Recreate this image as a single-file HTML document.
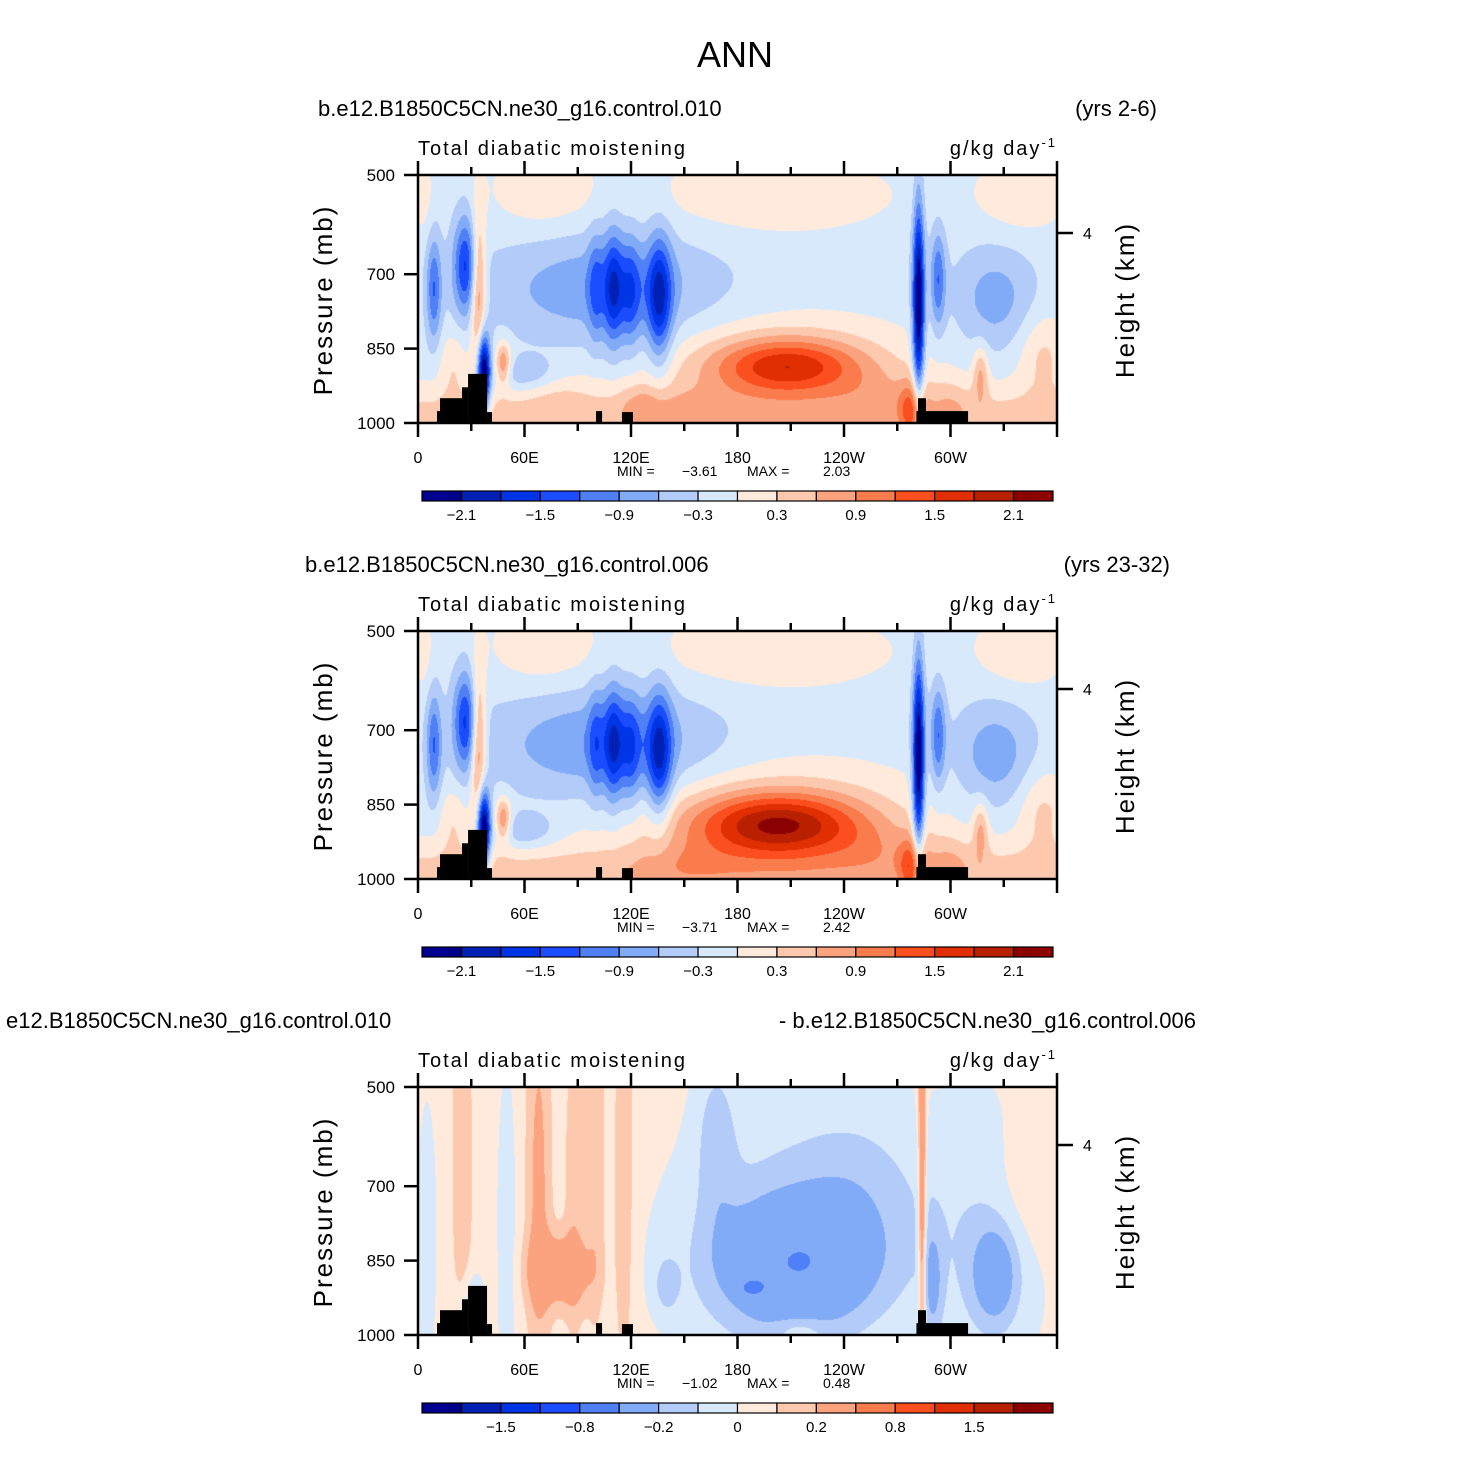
<!DOCTYPE html>
<html><head><meta charset="utf-8">
<style>
html,body{margin:0;padding:0;background:#fff;}
#wrap{position:relative;width:1467px;height:1463px;overflow:hidden;}
canvas{position:absolute;}
svg{position:absolute;left:0;top:0;}
text{font-family:"Liberation Sans",sans-serif;fill:#000;}
</style></head>
<body>
<div id="wrap">
<canvas id="c0" width="639" height="248" style="left:418px;top:175px"></canvas>
<canvas id="c1" width="639" height="248" style="left:418px;top:631px"></canvas>
<canvas id="c2" width="639" height="248" style="left:418px;top:1087px"></canvas>
<svg id="ov" width="1467" height="1463">
<text x="735" y="67" font-size="36" text-anchor="middle" style="font-weight:300">ANN</text>
</svg>
</div>
<script>
// ---- data ----
const colors=["#00008f","#0021b3","#0035e6","#1a4dff","#4f80f7","#82abf7","#b3cbf8","#d8e9fc","#ffeadb","#fcc8ae","#fba37f","#fa7c4c","#fb4f1f","#e02f00","#b82000","#8b0000"];
const levelsAbs=[-2.1,-1.8,-1.5,-1.2,-0.9,-0.6,-0.3,0,0.3,0.6,0.9,1.2,1.5,1.8,2.1];
const levelsDiff=[-2,-1.5,-1.2,-0.8,-0.5,-0.2,-0.1,0,0.1,0.2,0.5,0.8,1.2,1.5,2];
const labelsAbs=["-2.1","","-1.5","","-0.9","","-0.3","","0.3","","0.9","","1.5","","2.1"];
const labelsDiff=["","-1.5","","-0.8","","-0.2","","0","","0.2","","0.8","","1.5",""];
const lonTicks=[0,60,120,180,240,300];
const lonLabels=["0","60E","120E","180","120W","60W"];
const pTicks=[500,700,850,1000];
const titlesL=["b.e12.B1850C5CN.ne30_g16.control.010","b.e12.B1850C5CN.ne30_g16.control.006","e12.B1850C5CN.ne30_g16.control.010"];
const titlesR=["(yrs 2-6)","(yrs 23-32)","- b.e12.B1850C5CN.ne30_g16.control.006"];
const mins=["\u22123.61","\u22123.71","\u22121.02"];
const maxs=["2.03","2.42","0.48"];
// topography blocks: lon0, lon1, top pressure
const topoLon0=[10.7,12.4,24.8,28.2,38.9,100.3,114.9,281.7,280.8];
const topoLon1=[12.4,24.8,28.2,38.9,41.7,103.7,121.1,286.2,309.9];
const topoP=[976,950,928,901,978,976,978,950,976];
// field features per panel: lon, p, sigmaLon, sigmaP, amplitude
const base=[-0.15,-0.15,0.04];
const f1Lon=[70,200,340,3,105,100,110,120,136,9,27,34,37,180,208,205,282,293,325,278,317,352,48,150,60,260,300,20,75,126];
const f1P  =[530,540,540,540,730,730,730,740,750,730,680,730,900,995,885,880,760,710,750,975,900,860,880,975,905,940,960,880,935,960];
const f1SL =[20,48,18,4,45,3,4,4,5,3,5,3,2.5,900,30,55,2.3,3,16,5,3,10,3,20,12,20,8,6,15,8];
const f1SP =[55,55,55,60,75,80,85,80,90,75,70,110,55,50,40,75,140,70,75,40,40,60,30,35,25,40,35,50,25,30];
const f1A  =[0.4,0.4,0.4,0.3,-0.7,-0.6,-1.1,-0.8,-1.4,-1.0,-1.3,1.3,-2.6,0.6,1.45,0.45,-2.4,-1.0,-0.6,0.9,0.7,0.5,1.1,0.25,-0.5,0.25,0.25,0.4,0.2,0.3];
const f2Lon=[70,200,340,3,105,100,110,120,136,9,27,34,37,180,203,200,282,293,325,278,317,352,48,150,60,260,300,20];
const f2P  =[530,540,540,540,730,730,730,740,750,730,680,730,900,995,890,880,760,710,750,975,900,860,880,975,905,940,960,880];
const f2SL =[20,48,18,4,45,3,4,4,5,3,5,3,2.5,900,34,60,2.3,3,16,5,3,10,3,20,12,20,8,6];
const f2SP =[55,55,55,60,75,80,85,80,90,75,70,110,55,50,45,85,140,70,75,40,40,60,30,35,25,40,35,50];
const f2A  =[0.4,0.4,0.4,0.3,-0.75,-0.6,-1.1,-0.8,-1.4,-1.0,-1.3,1.3,-2.6,0.6,1.75,0.55,-2.4,-1.0,-0.65,0.9,0.7,0.5,1.1,0.25,-0.5,0.25,0.25,0.4];
const f3Lon=[213,210,188,168,250,80,25,68,88,100,116,5,50,284,325,320,345,215,140,30,290];
const f3P  =[860,800,905,600,700,870,650,700,700,650,700,800,800,700,880,800,700,990,900,940,900];
const f3SL =[32,45,5,8,25,12,4,5,4,4,4,4,4,1.5,9,25,15,10,5,5,4];
const f3SP =[90,200,12,120,120,50,300,300,250,250,300,200,250,300,70,200,100,20,40,50,80];
const f3A  =[-0.38,-0.16,-0.3,-0.15,-0.1,0.3,0.15,0.2,0.12,0.14,0.15,-0.1,-0.1,0.4,-0.28,-0.13,0.1,0.12,-0.15,-0.15,-0.2];
const panels=[
 {lon:f1Lon,p:f1P,sl:f1SL,sp:f1SP,a:f1A,b:base[0],lev:levelsAbs},
 {lon:f2Lon,p:f2P,sl:f2SL,sp:f2SP,a:f2A,b:base[1],lev:levelsAbs},
 {lon:f3Lon,p:f3P,sl:f3SL,sp:f3SP,a:f3A,b:base[2],lev:levelsDiff}
];
// ---- scales ----
const X0=418,W=639,H=248;
const xOf=lon=>X0+lon/360*W;
const yOf=(p,top)=>top+(p-500)/500*H;
function hex(c){return [parseInt(c.substr(1,2),16),parseInt(c.substr(3,2),16),parseInt(c.substr(5,2),16)];}
const rgb=colors.map(hex);
panels.forEach((pn,k)=>{
 const cv=document.getElementById('c'+k),ctx=cv.getContext('2d');
 const img=ctx.createImageData(W,H);
 for(let y=0;y<H;y++){const p=500+(y+0.5)/H*500;
  for(let x=0;x<W;x++){const lon=(x+0.5)/W*360;let v=pn.b;
   for(let i=0;i<pn.a.length;i++){const dl=(lon-pn.lon[i])/pn.sl[i],dp=(p-pn.p[i])/pn.sp[i];const e=dl*dl+dp*dp;if(e<30)v+=pn.a[i]*Math.exp(-0.5*e);}
   let ci=0;while(ci<pn.lev.length&&v>=pn.lev[ci])ci++;
   const c=rgb[ci],o=(y*W+x)*4;img.data[o]=c[0];img.data[o+1]=c[1];img.data[o+2]=c[2];img.data[o+3]=255;}}
 ctx.putImageData(img,0,0);
});
// ---- overlay ----
const NS="http://www.w3.org/2000/svg",ov=document.getElementById('ov');
function mk(tag,at,parent,txt){const e=document.createElementNS(NS,tag);for(const k in at)e.setAttribute(k,at[k]);if(txt!==undefined)e.textContent=txt;(parent||ov).appendChild(e);return e;}
const tops=[175,631,1087];
tops.forEach((top,k)=>{
 const g=mk('g',{});
 
 
 for(let i=0;i<topoLon0.length;i++){
  const r=mk('rect',{x:xOf(topoLon0[i]),y:yOf(topoP[i],top),width:xOf(topoLon1[i])-xOf(topoLon0[i]),height:yOf(1000,top)-yOf(topoP[i],top),fill:'#000'},g);
  
  
 }
 const fr=mk('rect',{x:X0,y:top,width:W,height:H,fill:'none',stroke:'#000','stroke-width':2.5},g);
 
 
 for(let l=0;l<=360;l+=30){const x=xOf(l),len=(l%60===0)?14:8;
  mk('line',{x1:x,x2:x,y1:top,y2:top-len,stroke:'#000','stroke-width':2.5},g);
  mk('line',{x1:x,x2:x,y1:top+H,y2:top+H+len,stroke:'#000','stroke-width':2.5},g);}
 lonTicks.forEach((l,i)=>{const t=mk('text',{x:xOf(l),y:top+H+40,'font-size':16,'text-anchor':'middle'},g,lonLabels[i]);
  
  });
 pTicks.forEach(p=>{const y=yOf(p,top);mk('line',{x1:X0,x2:X0-14,y1:y,y2:y,stroke:'#000','stroke-width':2.5},g);
  const t=mk('text',{x:395,y:y+6,'font-size':17,'text-anchor':'end'},g,String(p));
  
  });
 mk('line',{x1:X0+W,x2:X0+W+16,y1:top+58,y2:top+58,stroke:'#000','stroke-width':2.5},g);
 mk('text',{x:1083,y:top+64,'font-size':16},g,'4');
 const yl=mk('text',{x:0,y:0,'font-size':26,'text-anchor':'middle','letter-spacing':'2',transform:`translate(332,${top+125}) rotate(-90)`},g,'Pressure (mb)');
 
 
 const yr=mk('text',{x:0,y:0,'font-size':26,'text-anchor':'middle','letter-spacing':'2',transform:`translate(1134,${top+125}) rotate(-90)`},g,'Height (km)');
 
 
 const st=mk('text',{x:418,y:top-20,'font-size':20,'letter-spacing':'2'},g,'Total diabatic moistening');
 
 
 const un=mk('text',{x:1057,y:top-20,'font-size':20,'text-anchor':'end','letter-spacing':'2'},g);
 
 
 mk('tspan',{},un,'g/kg day');mk('tspan',{dy:-8,'font-size':13},un,'-1');
 const xl=[318,305,6][k];
 const tl=mk('text',{x:xl,y:top-59,'font-size':22},g,titlesL[k]);
 
 
 const tr=mk('text',{x:[1157,1170,1196][k],y:top-59,'font-size':22,'text-anchor':'end'},g,titlesR[k]);
 
 
 const mm=mk('g',{},g);
 
 
 mk('text',{x:617,y:top+301,'font-size':14},mm,'MIN  =');
 mk('text',{x:682,y:top+301,'font-size':14},mm,mins[k]);
 mk('text',{x:747,y:top+301,'font-size':14},mm,'MAX  =');
 mk('text',{x:823,y:top+301,'font-size':14},mm,maxs[k]);
 const cb=mk('g',{},g);
 
 
 const cx0=422,cw=(1053-422)/16,cy=top+316;
 colors.forEach((c,i)=>{mk('rect',{x:cx0+i*cw,y:cy,width:cw,height:10,fill:c,stroke:'#000','stroke-width':1.2},cb);});
 const labs=k<2?labelsAbs:labelsDiff;
 labs.forEach((s,i)=>{if(!s)return;const t=mk('text',{x:cx0+(i+1)*cw,y:cy+29,'font-size':15,'text-anchor':'middle'},cb,s.replace('-','\u2212'));
  
  });
});
</script>
</body></html>
